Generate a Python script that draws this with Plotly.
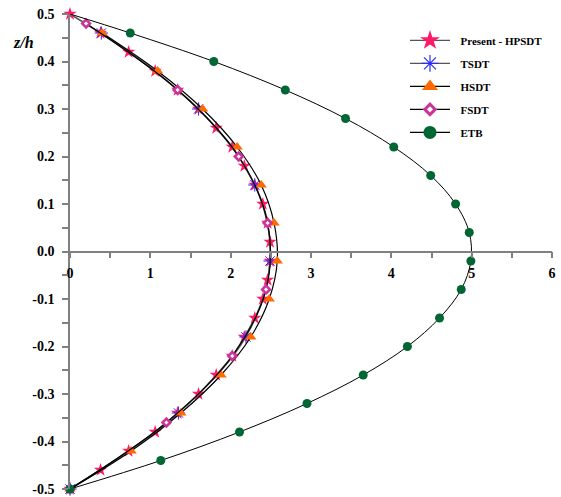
import plotly.graph_objects as go

# ---- data ----
present_z = [0.50, 0.46, 0.42, 0.38, 0.34, 0.30, 0.26, 0.22, 0.18, 0.14, 0.10, 0.06, 0.02,
             -0.02, -0.06, -0.10, -0.14, -0.18, -0.22, -0.26, -0.30, -0.34, -0.38, -0.42, -0.46, -0.50]
present_x = [0.0, 0.38, 0.73, 1.06, 1.34, 1.60, 1.82, 2.02, 2.17, 2.30, 2.40, 2.46, 2.49,
             2.49, 2.46, 2.40, 2.30, 2.17, 2.02, 1.82, 1.60, 1.34, 1.06, 0.73, 0.38, 0.0]

tsdt_z = [0.46, 0.30, 0.14, -0.02, -0.18, -0.34, -0.50]
tsdt_x = [0.39, 1.60, 2.30, 2.49, 2.19, 1.35, 0.0]

hsdt_z = [0.46, 0.38, 0.30, 0.22, 0.14, 0.06, -0.02, -0.10, -0.18, -0.26, -0.34, -0.42, -0.50]
hsdt_x = [0.40, 1.09, 1.65, 2.08, 2.38, 2.54, 2.58, 2.48, 2.25, 1.88, 1.38, 0.76, 0.0]

fsdt_z = [0.48, 0.34, 0.20, 0.06, -0.08, -0.22, -0.36, -0.50]
fsdt_x = [0.20, 1.34, 2.10, 2.46, 2.44, 2.02, 1.20, 0.0]

etb_z = [0.50, 0.46, 0.40, 0.34, 0.28, 0.22, 0.16, 0.10, 0.04, -0.02, -0.08, -0.14, -0.20,
         -0.26, -0.32, -0.38, -0.44, -0.50]
etb_x = [0.0, 0.75, 1.79, 2.68, 3.43, 4.03, 4.49, 4.80, 4.97, 4.99, 4.87, 4.60, 4.20,
         3.65, 2.95, 2.11, 1.13, 0.0]

series_names = ["Present - HPSDT", "TSDT", "HSDT", "FSDT", "ETB"]

y_ticks = [0.5, 0.4, 0.3, 0.2, 0.1, 0.0, -0.1, -0.2, -0.3, -0.4, -0.5]
y_ticktext = ["0.5", "0.4", "0.3", "0.2", "0.1", "0.0", "-0.1", "-0.2", "-0.3", "-0.4", "-0.5"]
x_ticks = [0, 1, 2, 3, 4, 5, 6]

SERIF = "Liberation Serif"
PAD = "&nbsp;&nbsp;"

styles = [
    dict(line=dict(color="#555555", width=1.5, shape="spline"),
         marker=dict(symbol="star", size=10, color="#FF1A66", line=dict(width=0)),
         lmarker=dict(symbol="star", size=15, color="#FF1A66", line=dict(width=0))),
    dict(line=dict(color="#555555", width=1.2, shape="spline"),
         marker=dict(symbol="asterisk-open", size=11, color="#2B2BFF",
                     line=dict(color="#2B2BFF", width=1)),
         lmarker=dict(symbol="asterisk-open", size=14, color="#2B2BFF",
                      line=dict(color="#2B2BFF", width=1.2))),
    dict(line=dict(color="#000000", width=1.2, shape="spline"),
         marker=dict(symbol="triangle-up", size=10, color="#FF6A00", line=dict(width=0)),
         lmarker=dict(symbol="triangle-up", size=14, color="#FF6A00", line=dict(width=0))),
    dict(line=dict(color="#000000", width=1.2, shape="spline"),
         marker=dict(symbol="diamond", size=6, color="#FFFFFF",
                     line=dict(color="#CC3399", width=2.5)),
         lmarker=dict(symbol="diamond", size=8, color="#FFFFFF",
                      line=dict(color="#CC3399", width=3))),
    dict(line=dict(color="#000000", width=1, shape="spline"),
         marker=None,
         lmarker=dict(symbol="circle", size=13, color="#006633", line=dict(width=0))),
]

fig = go.Figure()

data = [(present_x, present_z), (tsdt_x, tsdt_z), (hsdt_x, hsdt_z), (fsdt_x, fsdt_z)]
for (xs, zs), st in zip(data, styles[:4]):
    fig.add_trace(go.Scatter(x=xs, y=zs, mode="lines+markers", showlegend=False,
                             line=st["line"], marker=st["marker"], cliponaxis=False))

# ETB: the top point carries the curve but shows no marker
etb_sizes = [0] + [9] * (len(etb_x) - 1)
fig.add_trace(go.Scatter(
    x=etb_x, y=etb_z, mode="lines+markers", showlegend=False,
    line=styles[4]["line"],
    marker=dict(symbol="circle", size=etb_sizes, color="#006633", opacity=1,
                line=dict(width=0)),
    cliponaxis=False))

# legend entries (larger symbols, as in the reference)
for i, (name, st) in enumerate(zip(series_names, styles)):
    fig.add_trace(go.Scatter(x=[None], y=[None], mode="lines+markers", name=PAD + name,
                             legendgroup=str(i),
                             line=dict(color=st["line"]["color"], width=1.3),
                             marker=st["lmarker"]))

fig.update_layout(
    width=561, height=497,
    margin=dict(l=70, r=9, t=14, b=8, autoexpand=False),
    paper_bgcolor="white", plot_bgcolor="white",
    font=dict(family=SERIF, size=13, color="black"),
    showlegend=True,
    legend=dict(
        x=0.695, y=0.975, xanchor="left", yanchor="top",
        font=dict(family=SERIF, size=11, color="black", weight="bold"),
        bgcolor="rgba(0,0,0,0)", itemwidth=40,
        traceorder="grouped", tracegroupgap=4,
    ),
    xaxis=dict(
        range=[0, 6], anchor="free", position=0.5, automargin=False,
        showgrid=False, zeroline=False,
        showline=True, linecolor="#808080", linewidth=1.5,
        tickvals=x_ticks, ticks="outside", ticklen=6, tickcolor="#808080", tickwidth=1.5,
        tickfont=dict(family=SERIF, size=14, color="black", weight="bold"),
        minor=dict(dtick=0.5, ticks="outside", ticklen=6, tickcolor="#808080", tickwidth=1.5),
        ticklabelstandoff=3,
    ),
    yaxis=dict(
        range=[-0.5, 0.5], automargin=False,
        showgrid=False, zeroline=False,
        showline=True, linecolor="#808080", linewidth=1.5,
        tickvals=y_ticks, ticktext=y_ticktext,
        ticks="outside", ticklen=6, tickcolor="#808080", tickwidth=1.5,
        tickfont=dict(family=SERIF, size=14, color="black", weight="bold"),
        minor=dict(dtick=0.05, tick0=0, ticks="outside", ticklen=6, tickcolor="#808080", tickwidth=1.5),
        ticklabelstandoff=5,
    ),
    annotations=[dict(
        text="<b><i>z/h</i></b>", xref="paper", yref="paper",
        x=-0.0975, y=0.939, xanchor="center", yanchor="middle", showarrow=False,
        font=dict(family=SERIF, size=16, color="black"))],
)

fig.write_html("out.html")
